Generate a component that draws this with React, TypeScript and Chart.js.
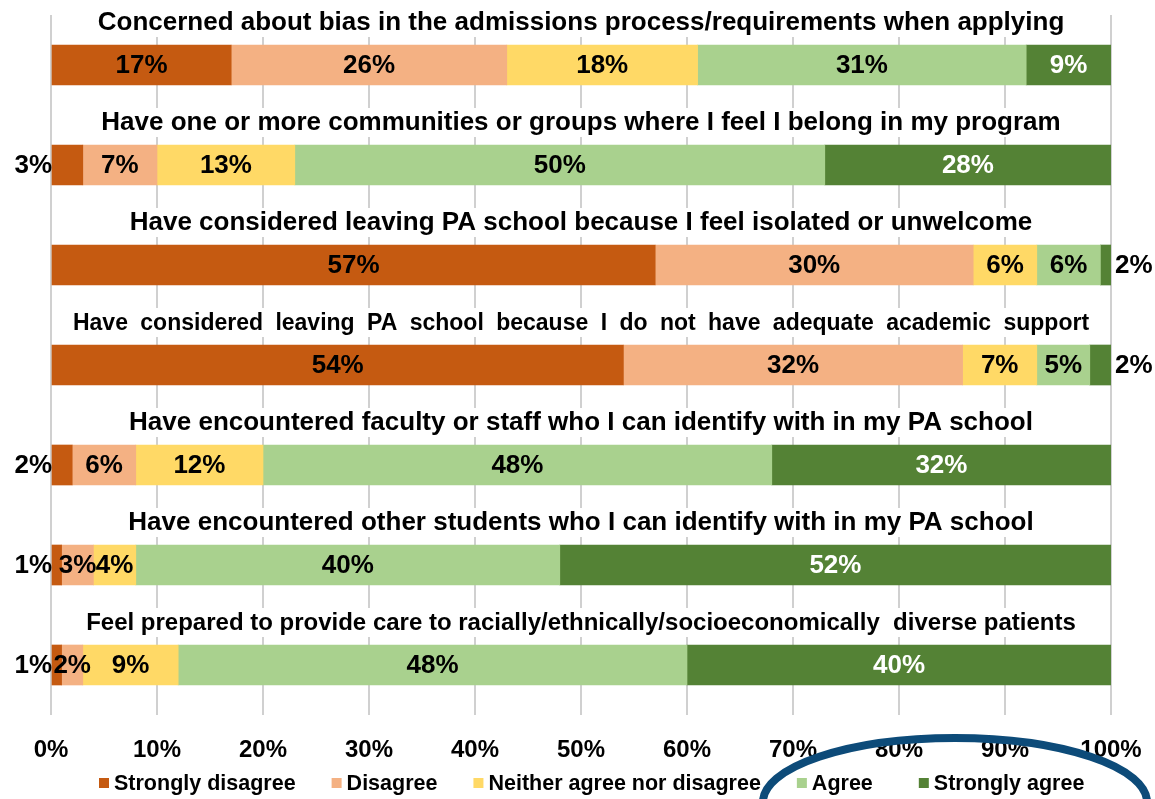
import React, { useEffect, useRef } from "react";
import { Chart, registerables } from "chart.js";

Chart.register(...registerables);

const questions = [
  "Concerned about bias in the admissions process/requirements when applying",
  "Have one or more communities or groups where I feel I belong in my program",
  "Have considered leaving PA school because I feel isolated or unwelcome",
  "Have considered leaving PA school because I do not have adequate academic support",
  "Have encountered faculty or staff who I can identify with in my PA school",
  "Have encountered other students who I can identify with in my PA school",
  "Feel prepared to provide care to racially/ethnically/socioeconomically  diverse patients",
];

const seriesNames = [
  "Strongly disagree",
  "Disagree",
  "Neither agree nor disagree",
  "Agree",
  "Strongly agree",
];

const stronglyDisagree = [17, 3, 57, 54, 2, 1, 1];
const disagree = [26, 7, 30, 32, 6, 3, 2];
const neither = [18, 13, 6, 7, 12, 4, 9];
const agree = [31, 50, 6, 5, 48, 40, 48];
const stronglyAgree = [9, 28, 2, 2, 32, 52, 40];

const xTickValues = [0, 10, 20, 30, 40, 50, 60, 70, 80, 90, 100];

const seriesColors = ["#c55a11", "#f4b183", "#ffd966", "#a9d18e", "#548235"];
const labelColors = ["#000000", "#000000", "#000000", "#000000", "#ffffff"];
// per-title font size and word spacing (style only)
const titleFontSizes = [26, 26, 26, 23, 26, 26, 24];
const titleWordSpacing = [0, 0, 0, 6, 0, 0, 0];

const FONT = "'Liberation Sans', Arial, sans-serif";

const overlayPlugin = {
  id: "overlay",
  afterDatasetsDraw(chart: any) {
    const ctx = chart.ctx;
    const area = chart.chartArea;
    ctx.save();
    ctx.font = `bold 26px ${FONT}`;
    ctx.textBaseline = "middle";
    chart.data.datasets.forEach((ds: any, di: number) => {
      const meta = chart.getDatasetMeta(di);
      meta.data.forEach((el: any, i: number) => {
        const v = ds.data[i];
        const txt = `${v}%`;
        const left = Math.min(el.x, el.base);
        const right = Math.min(Math.max(el.x, el.base), area.right);
        if (di === 0 && v <= 3) {
          ctx.fillStyle = "#000";
          ctx.textAlign = "right";
          ctx.fillText(txt, area.left + 1, el.y + 1);
        } else if (di === 4 && v <= 3) {
          ctx.fillStyle = "#000";
          ctx.textAlign = "left";
          ctx.fillText(txt, area.right + 4, el.y + 1);
        } else {
          ctx.fillStyle = labelColors[di];
          ctx.textAlign = "center";
          ctx.fillText(txt, (left + right) / 2, el.y + 1);
        }
      });
    });
    ctx.restore();
  },
  afterDraw(chart: any) {
    const ctx = chart.ctx;
    const area = chart.chartArea;
    const yScale = chart.scales.y;
    const cx = (area.left + area.right) / 2;
    ctx.save();
    // question titles
    ctx.textBaseline = "alphabetic";
    ctx.textAlign = "center";
    questions.forEach((q, i) => {
      ctx.font = `bold ${titleFontSizes[i]}px ${FONT}`;
      (ctx as any).wordSpacing = `${titleWordSpacing[i]}px`;
      const base = yScale.getPixelForValue(i) - 35;
      const w = ctx.measureText(q).width;
      ctx.fillStyle = "#ffffff";
      ctx.fillRect(cx - w / 2 - 2, base - 22, w + 4, 29);
      ctx.fillStyle = "#000000";
      ctx.fillText(q, cx, base);
    });
    (ctx as any).wordSpacing = "0px";
    // legend
    ctx.font = `bold 21.5px ${FONT}`;
    ctx.textAlign = "left";
    ctx.textBaseline = "middle";
    const box = 10;
    const gaps = [36, 36, 36, 46, 0];
    const ly = 783;
    let x = 99;
    seriesNames.forEach((n, i) => {
      ctx.fillStyle = seriesColors[i];
      ctx.fillRect(x, ly - box / 2, box, box);
      ctx.fillStyle = "#000";
      ctx.fillText(n, x + 15, ly + 1);
      x += 15 + ctx.measureText(n).width + gaps[i];
    });
    // highlight ellipse
    ctx.beginPath();
    ctx.ellipse(955, 802, 192, 64, 0, 0, Math.PI * 2);
    ctx.lineWidth = 8;
    ctx.strokeStyle = "#0d4b79";
    ctx.stroke();
    ctx.restore();
  },
};

export default function App() {
  const ref = useRef<HTMLCanvasElement | null>(null);
  useEffect(() => {
    if (!ref.current) return;
    const series = [stronglyDisagree, disagree, neither, agree, stronglyAgree];
    const chart = new Chart(ref.current, {
      type: "bar",
      data: {
        labels: questions,
        datasets: series.map((d, i) => ({
          label: seriesNames[i],
          data: d,
          backgroundColor: seriesColors[i],
          borderWidth: 0,
          barThickness: 40,
          clip: 0,
        })),
      },
      options: {
        indexAxis: "y",
        animation: false,
        responsive: false,
        devicePixelRatio: 1,
        layout: { padding: { left: 51, right: 44, top: 15, bottom: 0 } },
        plugins: { legend: { display: false }, tooltip: { enabled: false }, title: { display: false } },
        scales: {
          x: {
            stacked: true,
            min: 0,
            max: 100,
            afterBuildTicks: (scale: any) => {
              scale.ticks = xTickValues.map((v) => ({ value: v }));
            },
            afterFit: (scale: any) => {
              scale.height = 84;
              scale.paddingLeft = 0;
              scale.paddingRight = 0;
            },
            border: { display: false },
            grid: { color: "#d0d0d0", lineWidth: 2, drawTicks: false },
            ticks: {
              padding: 21,
              color: "#000",
              maxRotation: 0,
              font: { family: FONT, size: 24, weight: "bold" },
              callback: (v: any) => `${v}%`,
            },
          },
          y: {
            stacked: true,
            display: false,
          },
        },
      },
      plugins: [overlayPlugin],
    });
    return () => chart.destroy();
  }, []);
  return (
    <div style={{ position: "absolute", left: 0, top: 0, width: 1155, height: 799, background: "#fff" }}>
      <canvas ref={ref} width={1155} height={799} />
    </div>
  );
}
